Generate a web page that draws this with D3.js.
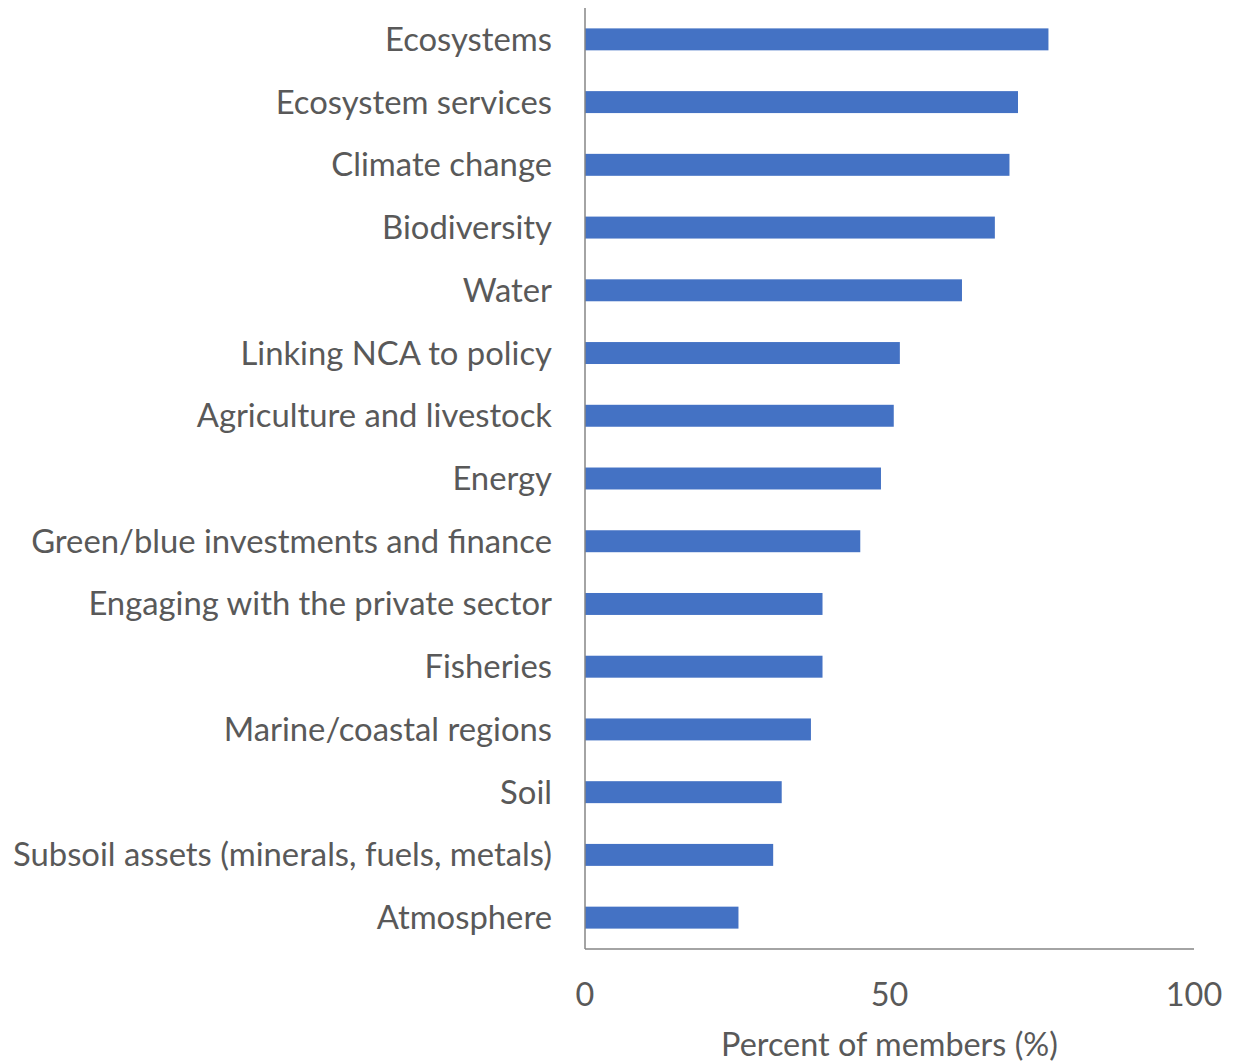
<!DOCTYPE html>
<html>
<head>
<meta charset="utf-8">
<script src="https://cdn.jsdelivr.net/npm/d3@7"></script>
<style>
  body { margin: 0; background: #fff; }
  text { font-family: Lato, "Noto Sans", sans-serif; fill: #595959; }
</style>
</head>
<body>
<div id="chart"></div>
<script>
// data, top to bottom
var topics = ["Ecosystems", "Ecosystem services", "Climate change", "Biodiversity", "Water",
  "Linking NCA to policy", "Agriculture and livestock", "Energy",
  "Green/blue investments and finance", "Engaging with the private sector", "Fisheries",
  "Marine/coastal regions", "Soil", "Subsoil assets (minerals, fuels, metals)", "Atmosphere"];
var percents = [76.1, 71.1, 69.7, 67.3, 61.9, 51.7, 50.7, 48.6, 45.2, 39.0, 39.0, 37.1, 32.3, 30.9, 25.2];
var xTicks = [0, 50, 100];

var width = 1248;
var height = 1064;
var margin = {top: 8, right: 54, bottom: 115, left: 585};

var svg = d3.select("#chart").append("svg")
  .attr("width", width)
  .attr("height", height);

var x = d3.scaleLinear()
  .domain([0, 100])
  .range([margin.left, width - margin.right]);

var y = d3.scaleBand()
  .domain(topics)
  .range([margin.top, height - margin.bottom])
  .paddingInner(0.65)
  .paddingOuter(0.325);

// bars
svg.selectAll("rect.bar")
  .data(topics)
  .enter()
  .append("rect")
  .attr("class", "bar")
  .attr("x", x(0))
  .attr("y", function(d){ return y(d); })
  .attr("width", function(d, i){ return x(percents[i]) - x(0); })
  .attr("height", y.bandwidth())
  .style("fill", "#4472c4");

// category labels
svg.selectAll("text.cat")
  .data(topics)
  .enter()
  .append("text")
  .attr("class", "cat")
  .attr("x", x(0) - 33)
  .attr("y", function(d){ return y(d) + y.bandwidth() / 2; })
  .attr("dy", "0.35em")
  .attr("text-anchor", "end")
  .style("font-size", "32.8px")
  .text(function(d){ return d; });

// axis lines
svg.append("line")
  .attr("x1", x(0)).attr("x2", x(0))
  .attr("y1", margin.top).attr("y2", height - margin.bottom)
  .style("stroke", "#868686").style("stroke-width", 1.5);
svg.append("line")
  .attr("x1", x(0)).attr("x2", x(100))
  .attr("y1", height - margin.bottom).attr("y2", height - margin.bottom)
  .style("stroke", "#868686").style("stroke-width", 1.5);

// tick labels
svg.selectAll("text.tick")
  .data(xTicks)
  .enter()
  .append("text")
  .attr("class", "tick")
  .attr("x", function(d){ return x(d); })
  .attr("y", 1006)
  .attr("text-anchor", "middle")
  .style("font-size", "32.4px")
  .text(function(d){ return d; });

// axis title
svg.append("text")
  .attr("x", (x(0) + x(100)) / 2)
  .attr("y", 1056)
  .attr("text-anchor", "middle")
  .style("font-size", "32.4px")
  .text("Percent of members (%)");
</script>
</body>
</html>
